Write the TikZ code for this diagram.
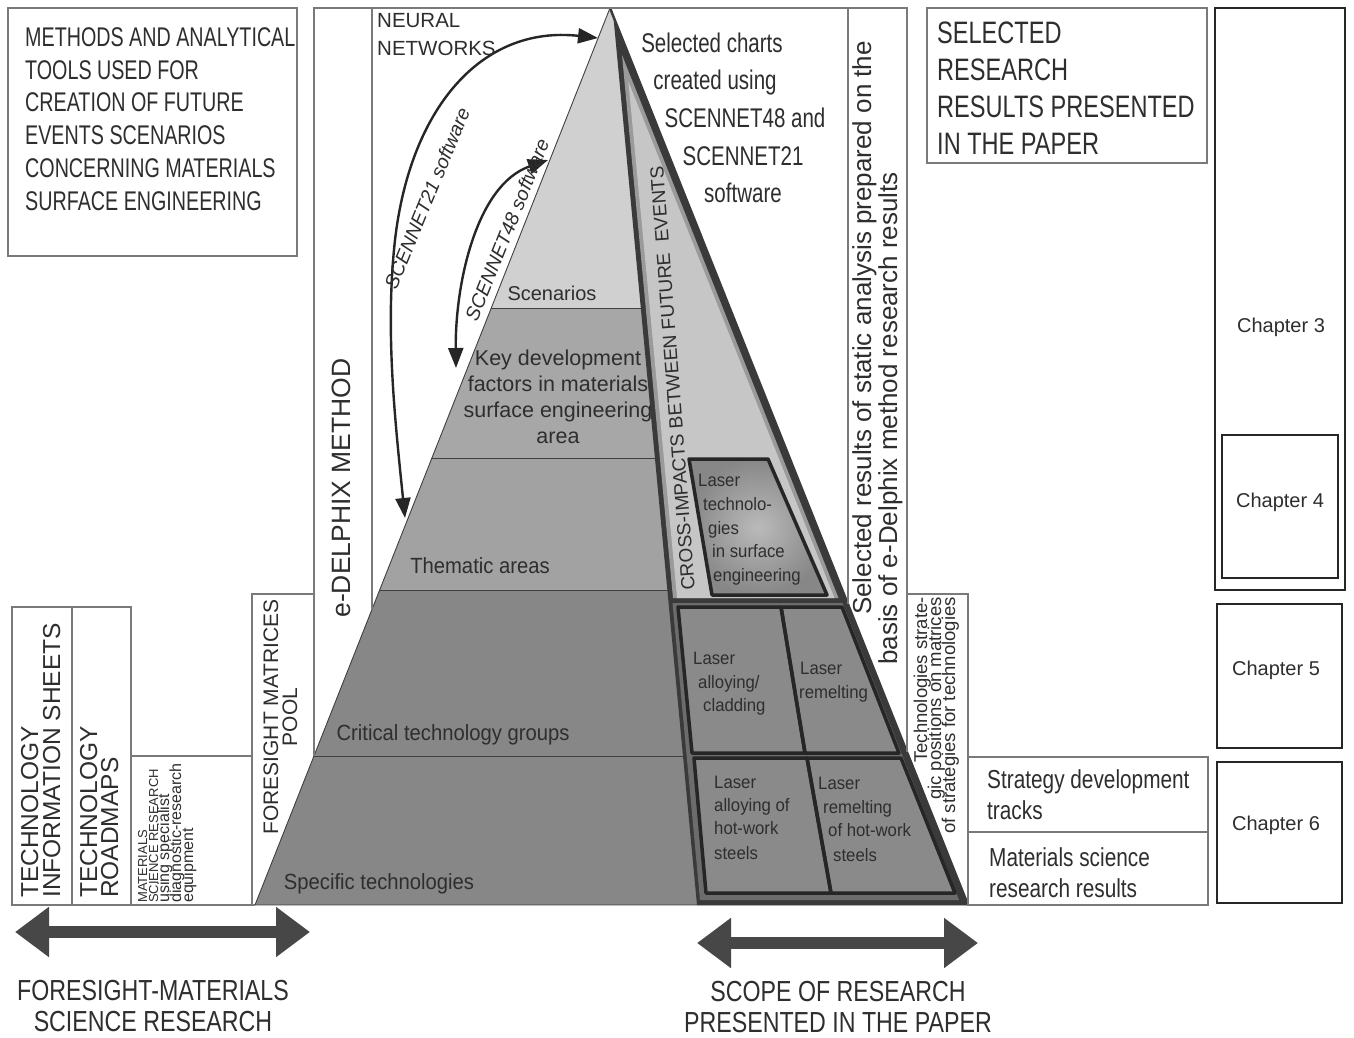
\documentclass[tikz,border=0pt]{standalone}
\usepackage{fontspec}
\setmainfont{Liberation Sans}
\newfontfamily\cA[FakeStretch=0.73]{Liberation Sans}
\newfontfamily\cB[FakeStretch=0.76]{Liberation Sans}
\newfontfamily\cC[FakeStretch=0.8]{Liberation Sans}
\newfontfamily\cD[FakeStretch=0.92]{Liberation Sans}
\newfontfamily\cE[FakeStretch=0.93]{Liberation Sans}
\newcommand\fsz[2]{\fontsize{#1}{#2}\selectfont}
\usetikzlibrary{arrows.meta}
\definecolor{txtc}{HTML}{2E2E2E}
\definecolor{boxc}{HTML}{7A7A7A}
\definecolor{layA}{HTML}{D0D0D0}
\definecolor{layB}{HTML}{A7A7A7}
\definecolor{layC}{HTML}{A2A2A2}
\definecolor{layD}{HTML}{878787}
\definecolor{frameC}{HTML}{3A3A3A}
\definecolor{midC}{HTML}{9A9A9A}
\definecolor{lightC}{HTML}{C6C6C6}
\definecolor{lowC}{HTML}{6C6C6C}
\definecolor{cellC}{HTML}{8A8A8A}
\definecolor{arrC}{HTML}{474747}
\tikzset{
  thinbox/.style={draw=boxc, line width=1.1pt},
  chapbox/.style={draw=black!85, line width=2pt},
  layline/.style={draw=black!75, line width=0.9pt},
  cellline/.style={draw=black!85, line width=3.5pt, line join=round},
  txt/.style={inner sep=0pt, text=txtc},
  bigarrow/.style={draw=arrC, line width=12pt, {Triangle[length=34pt,width=48pt]}-{Triangle[length=34pt,width=48pt]}},
  arcarrow/.style={draw=black!85, line width=2.4pt, {Triangle[length=20pt,width=15pt]}-{Triangle[length=20pt,width=15pt]}},
}
\begin{document}
\begin{tikzpicture}[x=1pt,y=-1pt]
\useasboundingbox (0,0) rectangle (1354,1038);
\fill[white] (0,0) rectangle (1354,1038);

% ---------- pyramid layers ----------
\begin{scope}
\clip (610,8) -- (255,905) -- (968,905) -- cycle;
\fill[layA] (200,0) rectangle (1000,308);
\fill[layB] (200,308) rectangle (1000,458);
\fill[layC] (200,458) rectangle (1000,590);
\fill[layD] (200,590) rectangle (1000,905);
\draw[layline] (200,308) -- (1000,308);
\draw[layline] (200,458) -- (1000,458);
\draw[layline] (200,590) -- (1000,590);
\draw[layline] (200,756) -- (1000,756);
\end{scope}
\draw[layline] (610,8) -- (255,905) -- (968,905);

% ---------- right frame ----------
\fill[frameC] (613.5,18) -- (968,905) -- (697,905) -- cycle;
\draw[frameC, line width=2.5pt] (610,8) -- (968,905);
\fill[midC] (622,55) -- (838.5,598) -- (673,598) -- cycle;
\fill[lightC] (628.4,81.7) -- (834.5,598) -- (677.1,598) -- cycle;
\fill[lowC] (672.5,603) -- (842.5,603) -- (959,900) -- (700,900) -- cycle;

% laser technologies box
\shade[inner color=black!27, outer color=black!47] (689,459) -- (768,459) -- (827,595) -- (712,595) -- cycle;
\draw[cellline] (689,459) -- (768,459) -- (827,595) -- (712,595) -- cycle;

% four cells
\fill[cellC] (678,607) -- (781,607) -- (805,753) -- (692,753) -- cycle;
\fill[cellC] (781,607) -- (842,607) -- (899,753) -- (805,753) -- cycle;
\fill[cellC] (694,758) -- (807,758) -- (831,893) -- (706,893) -- cycle;
\fill[cellC] (807,758) -- (901,758) -- (955,893) -- (831,893) -- cycle;
\draw[cellline] (678,607) -- (781,607) -- (805,753) -- (692,753) -- cycle;
\draw[cellline] (781,607) -- (842,607) -- (899,753) -- (805,753) -- cycle;
\draw[cellline] (694,758) -- (807,758) -- (831,893) -- (706,893) -- cycle;
\draw[cellline] (807,758) -- (901,758) -- (955,893) -- (831,893) -- cycle;

% ---------- frames / boxes ----------
\draw[thinbox] (8,8) rectangle (297,256);
\draw[thinbox] (314,756) -- (314,8) -- (907,8) -- (907,752);
\draw[thinbox] (372,8) -- (372,609);
\draw[thinbox] (848,8) -- (848,604);
\draw[thinbox] (907,594) -- (968,594) -- (968,905);
\draw[thinbox] (12,607) rectangle (131,905);
\draw[thinbox] (72,607) -- (72,905);
\draw[thinbox] (131,756) -- (252,756);
\draw[thinbox] (252,905) -- (252,594) -- (314,594);
\draw[thinbox] (12,905) -- (255,905);
\draw[thinbox] (927,8) rectangle (1207,163);
\draw[thinbox] (968,757) rectangle (1208,905);
\draw[thinbox] (968,832) -- (1208,832);
\draw[chapbox] (1215,8) rectangle (1345,590);
\draw[chapbox] (1222,435) rectangle (1338,578);
\draw[chapbox] (1217,604) rectangle (1342,748);
\draw[chapbox] (1217,762) rectangle (1342,903);

% ---------- curved arrows ----------
\coordinate (s21b) at (405,518);
\coordinate (s21t) at (598,38);
\coordinate (s48b) at (456,368);
\coordinate (s48t) at (548,160);
\draw[arcarrow] (s21b) .. controls (395,420) and (385,330) .. (395,240) .. controls (410,110) and (480,25) .. (s21t);
\draw[arcarrow] (s48b) .. controls (455,285) and (476,185) .. (s48t);
\node[txt, rotate=67.6, font=\itshape\fsz{19.5}{22}] (s21lab) at (427,198) {SCENNET21 software};
\node[txt, rotate=68, font=\itshape\fsz{19.5}{22}] (s48lab) at (507,230) {SCENNET48 software};

% ---------- bottom double arrows ----------
\coordinate (la) at (15,932);
\coordinate (lb) at (310,932);
\coordinate (ra) at (697,943);
\coordinate (rb) at (978,943);
\draw[bigarrow] (la) -- (lb);
\draw[bigarrow] (ra) -- (rb);

% ---------- texts ----------
\node[txt, anchor=west, align=left, font=\cA\fsz{27}{32.8}] (methods) at (25,119)
  {METHODS AND ANALYTICAL\\TOOLS USED FOR\\CREATION OF FUTURE\\EVENTS SCENARIOS\\CONCERNING MATERIALS\\SURFACE ENGINEERING};
\node[txt, anchor=west, align=left, font=\fsz{20.5}{28}] (neural) at (377,35) {NEURAL\\NETWORKS};
\node[txt, rotate=90, font=\fsz{26.5}{30}] (edelphix) at (341,488) {e-DELPHIX METHOD};

\node[txt, anchor=base, font=\cB\fsz{27}{37}] (ch1) at (712,53) {Selected charts};
\node[txt, anchor=base, font=\cB\fsz{27}{37}] (ch2) at (715,90) {created using};
\node[txt, anchor=base, font=\cB\fsz{27}{37}] (ch3) at (745,128) {SCENNET48 and};
\node[txt, anchor=base, font=\cB\fsz{27}{37}] (ch4) at (743,165) {SCENNET21};
\node[txt, anchor=base, font=\cB\fsz{27}{37}] (ch5) at (743,202) {software};

\node[txt, rotate=90, anchor=base west, font=\fsz{26}{30}] (selres1) at (871,615) {Selected results of static analysis prepared on the};
\node[txt, rotate=90, anchor=base west, font=\fsz{26}{30}] (selres2) at (897,665) {basis of e-Delphix method research results};

\node[txt, rotate=90, anchor=base east, font=\fsz{18.5}{20}] (tech1) at (927,597) {Technologies strate-};
\node[txt, rotate=90, anchor=base east, font=\fsz{18.5}{20}] (tech2) at (941,597) {gic positions on matrices};
\node[txt, rotate=90, anchor=base east, font=\fsz{18.5}{20}] (tech3) at (955,597) {of strategies for technologies};

\node[txt, rotate=94.3, font=\fsz{19}{22}] (cross) at (672.5,378.5) {CROSS-IMPACTS BETWEEN FUTURE\ \ EVENTS};

\node[txt, anchor=base, font=\fsz{20}{24}] (scen) at (552,300) {Scenarios};
\node[txt, align=center, font=\fsz{21.5}{26}] (keydev) at (558,397) {Key development\\factors in materials\\surface engineering\\area};
\node[txt, anchor=base, font=\cD\fsz{22}{26}] (them) at (480,573) {Thematic areas};
\node[txt, anchor=base, font=\cD\fsz{22}{26}] (crit) at (453,740) {Critical technology groups};
\node[txt, anchor=base, font=\cD\fsz{22}{26}] (spec) at (379,889) {Specific technologies};

% laser texts
\node[txt, anchor=base west, font=\cE\fsz{18}{23}] (lt1) at (698,486) {Laser};
\node[txt, anchor=base west, font=\cE\fsz{18}{23}] (lt2) at (703,510) {technolo-};
\node[txt, anchor=base west, font=\cE\fsz{18}{23}] (lt3) at (708,534) {gies};
\node[txt, anchor=base west, font=\cE\fsz{18}{23}] (lt4) at (712,557) {in surface};
\node[txt, anchor=base west, font=\cE\fsz{18}{23}] (lt5) at (713,581) {engineering};
\node[txt, anchor=base west, font=\cE\fsz{18}{23}] (ac1) at (693,664) {Laser};
\node[txt, anchor=base west, font=\cE\fsz{18}{23}] (ac2) at (698,688) {alloying/};
\node[txt, anchor=base west, font=\cE\fsz{18}{23}] (ac3) at (703,711) {cladding};
\node[txt, anchor=base west, font=\cE\fsz{18}{23}] (lr1) at (800,674) {Laser};
\node[txt, anchor=base west, font=\cE\fsz{18}{23}] (lr2) at (799,698) {remelting};
\node[txt, anchor=base west, font=\cE\fsz{18}{23}] (ah1) at (714,788) {Laser};
\node[txt, anchor=base west, font=\cE\fsz{18}{23}] (ah2) at (714,811) {alloying of};
\node[txt, anchor=base west, font=\cE\fsz{18}{23}] (ah3) at (714,834) {hot-work};
\node[txt, anchor=base west, font=\cE\fsz{18}{23}] (ah4) at (714,859) {steels};
\node[txt, anchor=base west, font=\cE\fsz{18}{23}] (rh1) at (818,789) {Laser};
\node[txt, anchor=base west, font=\cE\fsz{18}{23}] (rh2) at (823,813) {remelting};
\node[txt, anchor=base west, font=\cE\fsz{18}{23}] (rh3) at (828,836) {of hot-work};
\node[txt, anchor=base west, font=\cE\fsz{18}{23}] (rh4) at (833,861) {steels};

% left column texts
\node[txt, rotate=90, anchor=base west, font=\fsz{24.5}{28}] (tis1) at (38,898) {TECHNOLOGY};
\node[txt, rotate=90, anchor=base west, font=\fsz{24.5}{28}] (tis2) at (60,898) {INFORMATION SHEETS};
\node[txt, rotate=90, anchor=base west, font=\fsz{24.5}{28}] (trm1) at (97,898) {TECHNOLOGY};
\node[txt, rotate=90, anchor=base west, font=\fsz{24.5}{28}] (trm2) at (118,898) {ROADMAPS};
\node[txt, rotate=90, anchor=base west, font=\fsz{13}{14}] (msr1) at (147,903) {MATERIALS};
\node[txt, rotate=90, anchor=base west, font=\fsz{13}{14}] (msr2) at (158,903) {SCIENCE RESEARCH};
\node[txt, rotate=90, anchor=base west, font=\fsz{16}{14}] (msr3) at (169,903) {using specialist};
\node[txt, rotate=90, anchor=base west, font=\fsz{16}{14}] (msr4) at (181,903) {diagnostic-research};
\node[txt, rotate=90, anchor=base west, font=\fsz{16}{14}] (msr5) at (193,903) {equipment};
\node[txt, rotate=90, anchor=base, font=\fsz{21}{22}] (fmp1) at (278,717) {FORESIGHT MATRICES};
\node[txt, rotate=90, anchor=base, font=\fsz{21}{22}] (fmp2) at (297,717) {POOL};

% right texts
\node[txt, anchor=west, align=left, font=\cB\fsz{31}{37}] (selbox) at (937,88) {SELECTED\\RESEARCH\\RESULTS PRESENTED\\IN THE PAPER};
\node[txt, anchor=west, align=left, font=\cC\fsz{26}{31}] (strat) at (987,795) {Strategy development\\tracks};
\node[txt, anchor=west, align=left, font=\cC\fsz{26}{31}] (matres) at (989,873) {Materials science\\research results};
\node[txt, anchor=base, font=\fsz{20}{24}] (chap3) at (1281,332) {Chapter 3};
\node[txt, anchor=base, font=\fsz{20}{24}] (chap4) at (1280,507) {Chapter 4};
\node[txt, anchor=base, font=\fsz{20}{24}] (chap5) at (1276,675) {Chapter 5};
\node[txt, anchor=base, font=\fsz{20}{24}] (chap6) at (1276,830) {Chapter 6};

% bottom captions
\node[txt, anchor=base, font=\cC\fsz{29}{32}] (cap1) at (153,1000) {FORESIGHT-MATERIALS};
\node[txt, anchor=base, font=\cC\fsz{29}{32}] (cap2) at (153,1031) {SCIENCE RESEARCH};
\node[txt, anchor=base, font=\cC\fsz{29}{32}] (cap3) at (838,1001) {SCOPE OF RESEARCH};
\node[txt, anchor=base, font=\cC\fsz{29}{32}] (cap4) at (838,1032) {PRESENTED IN THE PAPER};
\end{tikzpicture}
\end{document}
